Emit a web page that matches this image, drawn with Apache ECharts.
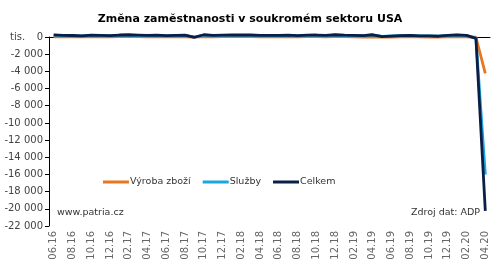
<!DOCTYPE html>
<html>
<head>
<meta charset="utf-8">
<script src="https://cdn.jsdelivr.net/npm/echarts@6/dist/echarts.min.js"></script>
<style>html,body{margin:0;padding:0;background:#fff}#c{width:500px;height:266px}</style>
</head>
<body>
<div id="c"></div>
<script>
var categories = ["06.16","07.16","08.16","09.16","10.16","11.16","12.16",
  "01.17","02.17","03.17","04.17","05.17","06.17","07.17","08.17","09.17","10.17","11.17","12.17",
  "01.18","02.18","03.18","04.18","05.18","06.18","07.18","08.18","09.18","10.18","11.18","12.18",
  "01.19","02.19","03.19","04.19","05.19","06.19","07.19","08.19","09.19","10.19","11.19","12.19",
  "01.20","02.20","03.20","04.20"];
var goods = [30,20,10,5,25,20,10,
  40,60,50,30,40,20,25,30,-20,40,30,40,
  40,50,45,30,20,30,35,25,35,40,30,50,
  40,20,0,25,-20,-10,10,10,5,-5,-20,10,
  30,10,-30,-4229];
var services = [220,170,165,115,195,170,140,
  190,200,170,150,180,140,165,180,-10,220,170,180,
  190,190,185,170,160,150,175,145,185,190,150,210,
  170,160,150,235,60,120,150,180,125,135,110,190,
  220,170,-120,-16007];
var total = [250,190,175,120,220,190,150,
  230,260,220,180,220,160,190,210,-30,260,200,220,
  230,240,230,200,180,180,210,170,220,230,180,260,
  210,180,150,260,40,110,160,190,130,130,90,200,
  250,180,-150,-20236];
var yTicks = {min: -22000, max: 0, step: 2000};

var FONT = '"DejaVu Sans", Verdana, sans-serif';
function fmt(v){
  var s = Math.abs(v).toString().replace(/\B(?=(\d{3})+(?!\d))/g, ' ');
  return (v < 0 ? '-' : '') + s;
}
var chart = echarts.init(document.getElementById('c'));
chart.setOption({
  animation: false,
  title: {
    text: 'Změna zaměstnanosti v soukromém sektoru USA',
    left: 'center', top: 9,
    textStyle: {fontFamily: FONT, fontSize: 11, fontWeight: 'bold', color: '#000'}
  },
  legend: {
    top: 172, left: 98,
    itemWidth: 26, itemHeight: 3, itemGap: 12,
    icon: 'rect',
    textStyle: {fontFamily: FONT, fontSize: 9.5, color: '#333', padding: [0,0,0,-4]},
    data: ['Výroba zboží','Služby','Celkem']
  },
  grid: {left: 49, right: 10, top: 37, bottom: 40, containLabel: false},
  xAxis: {
    type: 'category', data: categories, boundaryGap: true,
    axisLine: {lineStyle: {color: '#000', width: 1}},
    axisTick: {interval: 1, length: 4, lineStyle: {color: '#000'}},
    axisLabel: {interval: 1, rotate: 90, fontFamily: FONT, fontSize: 10, color: '#666', margin: 5}
  },
  yAxis: {
    type: 'value', min: yTicks.min, max: yTicks.max, interval: yTicks.step,
    splitLine: {show: false},
    axisLine: {show: true, lineStyle: {color: '#000', width: 1}},
    axisTick: {show: true, length: 4, lineStyle: {color: '#000'}},
    axisLabel: {fontFamily: FONT, fontSize: 10, color: '#444', margin: 6, formatter: fmt}
  },
  graphic: [
    {type: 'text', left: 10, top: 32, style: {text: 'tis.', font: '10px ' + FONT, fill: '#444'}},
    {type: 'text', left: 57, top: 208, style: {text: 'www.patria.cz', font: '9.5px ' + FONT, fill: '#333'}},
    {type: 'text', right: 20, top: 208, style: {text: 'Zdroj dat: ADP', font: '9.5px ' + FONT, fill: '#333'}}
  ],
  series: [
    {name: 'Výroba zboží', type: 'line', data: goods, symbol: 'none', clip: false,
     lineStyle: {width: 2.8, color: '#E87722'}, itemStyle: {color: '#E87722'}},
    {name: 'Služby', type: 'line', data: services, symbol: 'none', clip: false,
     lineStyle: {width: 2.8, color: '#1AA7E0'}, itemStyle: {color: '#1AA7E0'}},
    {name: 'Celkem', type: 'line', data: total, symbol: 'none', clip: false,
     lineStyle: {width: 2.8, color: '#0B1E45'}, itemStyle: {color: '#0B1E45'}}
  ]
});
</script>
</body>
</html>
